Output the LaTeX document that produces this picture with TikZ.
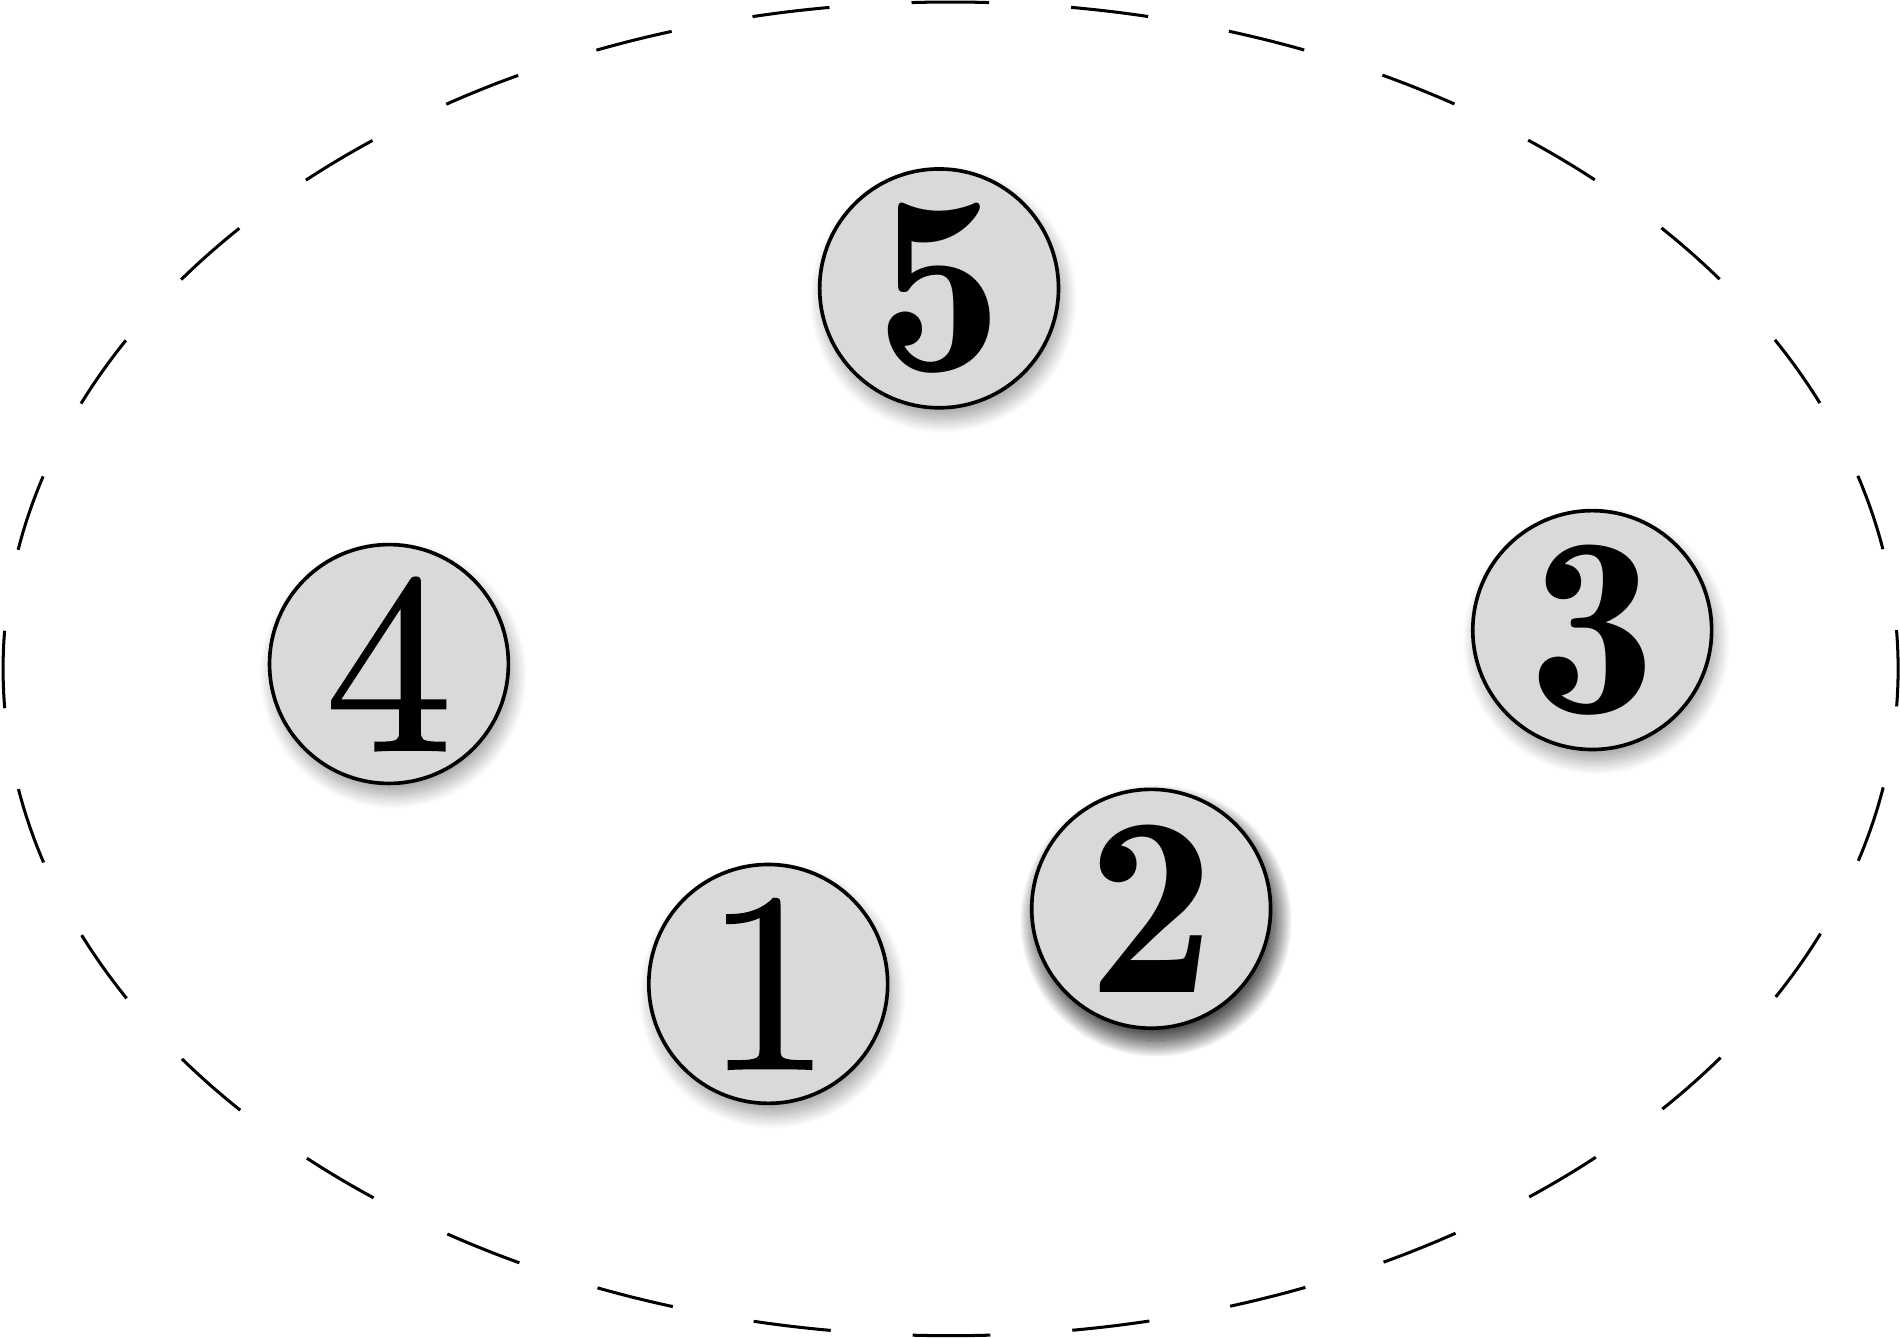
\documentclass[tikz,border=0pt]{standalone}
\usepackage{fontspec}
\usetikzlibrary{shadows.blur}
\newfontfamily\lmdemi{lmromandemi10-regular.otf}
\newfontfamily\lmten[FakeBold=0.8]{lmroman10-regular.otf}
\tikzset{
  ball/.style={circle, draw=black, line width=0.03cm, fill=black!15,
    minimum size=1.97cm, inner sep=0pt,
    font=\fontsize{60}{72}\lmten\bfseries,
    blur shadow={shadow xshift=0.035cm, shadow yshift=-0.09cm, shadow blur radius=0.12cm, shadow opacity=40, shadow blur steps=30}},
  darkball/.style={ball, blur shadow={shadow xshift=0.04cm, shadow yshift=-0.1cm, shadow blur radius=0.14cm, shadow opacity=55, shadow blur steps=30}},
  boldnum/.style={font=\fontsize{60}{72}\lmdemi},
  rim/.style={draw=black, line width=0.025cm, dash pattern=on 0.64cm off 0.6776cm, dash phase=0.32cm}
}
\begin{document}
\begin{tikzpicture}[x=0.01cm,y=-0.01cm]
\useasboundingbox (0,0) rectangle (1568,1104);
\coordinate (c) at (784.5,552);
\draw[rim] (c) ellipse [x radius=7.815cm, y radius=5.5cm];
\node[ball, boldnum] (n5) at (775,238) {5};
\node[ball] (n4) at (321,548) {4};
\node[ball, boldnum] (n3) at (1314,520) {3};
\node[darkball, boldnum] (n2) at (950,750) {2};
\node[ball] (n1) at (634,812) {1};
\end{tikzpicture}
\end{document}
